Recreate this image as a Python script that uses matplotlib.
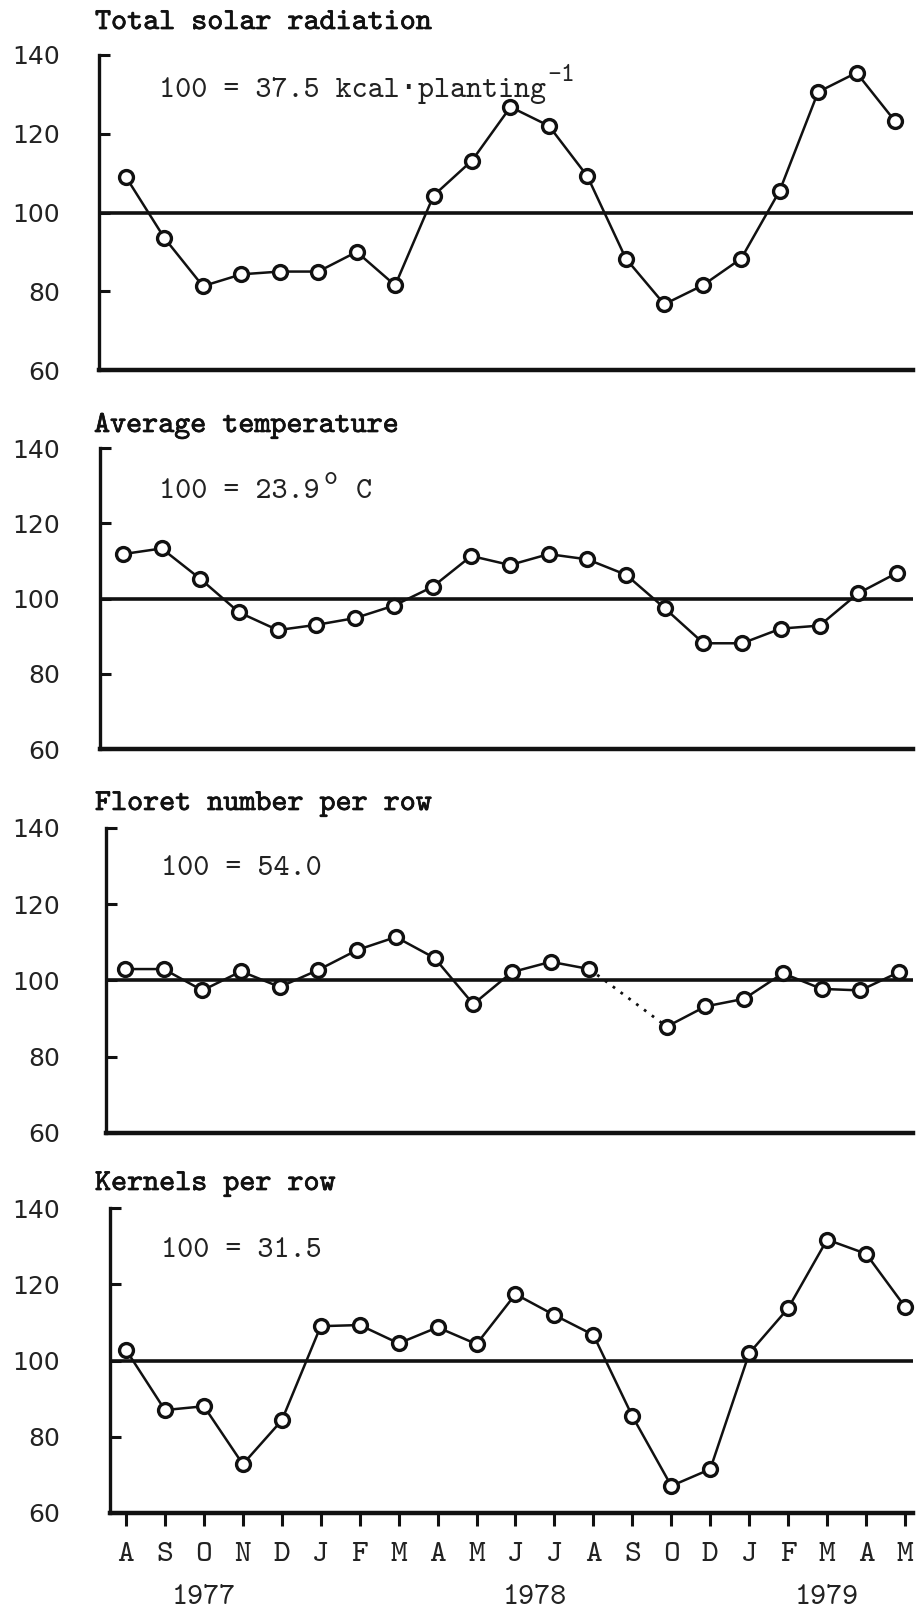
import numpy as np
import matplotlib
matplotlib.use("Agg")
import matplotlib.pyplot as plt
import matplotlib.patheffects as pe
import matplotlib.transforms as mtransforms

# planting months, Aug 1977 - May 1979 (no November planting in 1978)
months = ["A", "S", "O", "N", "D", "J", "F", "M", "A", "M",
          "J", "J", "A", "S", "O", "D", "J", "F", "M", "A", "M"]
years = ["1977", "1978", "1979"]
year_pos = [2, 10.5, 18]

# relative values, 100 = overall mean
solar = [109, 93.5, 81.3, 84.3, 85, 85, 90, 81.5, 104.3, 113.2,
         126.8, 122, 109.2, 88.3, 76.7, 81.5, 88.3, 105.5, 130.6, 135.5, 123.2]
temperature = [111.8, 113.3, 105.2, 96.3, 91.6, 93, 94.8, 98.1, 103.1, 111.3,
               108.9, 111.8, 110.4, 106.3, 97.4, 88.1, 88.1, 92, 92.8, 101.4, 106.8]
florets = [103, 103, 97.4, 102.4, 98.3, 102.8, 108, 111.4, 105.9, 93.8,
           102.2, 104.9, 103, np.nan, 87.9, 93.2, 95.2, 101.9, 97.8, 97.4, 102.2]
kernels = [102.8, 87, 88, 72.8, 84.3, 109, 109.3, 104.5, 108.7, 104.3,
           117.4, 111.9, 106.7, 85.4, 67.1, 71.5, 101.9, 113.7, 131.7, 128, 114.1]

titles = ["Total solar radiation", "Average temperature",
          "Floret number per row", "Kernels per row"]
base_notes = ["100 = 37.5 kcal\u00b7planting", "100 = 23.9", "100 = 54.0", "100 = 31.5"]
yticks = [60, 80, 100, 120, 140]

# page layout in pixels: left spine, first/last month x, top (140) and bottom (60) y
W, H = 920, 1612
RIGHT = 913
layouts = [(99, 126, 895, 55, 370),
           (100, 123, 897, 448, 749),
           (106, 125, 899, 828, 1133),
           (110, 126, 905, 1208, 1513)]
title_xy = [(95, 29), (94, 432), (95, 810), (95, 1190)]
note_xy = [(159, 97), (159, 498), (161, 875), (161, 1257)]

ink = "#111111"
grey = "#222222"
mono = ["cmtt10", "DejaVu Sans Mono"]

fig = plt.figure(figsize=(W / 100, H / 100), dpi=100)
fig.patch.set_facecolor("white")

series = [solar, temperature, florets, kernels]
x = np.arange(len(months))

for k, vals in enumerate(series):
    left, p0, p20, ytop, ybot = layouts[k]
    ax = fig.add_axes([left / W, 1 - ybot / H, (RIGHT - left) / W, (ybot - ytop) / H])
    step = (p20 - p0) / (len(months) - 1)
    ax.set_xlim((left - p0) / step, (RIGHT - p0) / step)
    ax.set_ylim(60, 140)
    ax.patch.set_alpha(0)

    v = np.asarray(vals, dtype=float)
    ax.axhline(100, color=ink, lw=2.6, zorder=1)
    ax.plot(x, v, "-", color=ink, lw=1.8, marker="o", ms=10, mfc="white",
            mec=ink, mew=2.4, zorder=3, clip_on=False)
    # missing month bridged with a dotted line
    for g in np.flatnonzero(np.isnan(v)):
        ax.plot([g - 1, g + 1], [v[g - 1], v[g + 1]], color=ink, lw=2.0,
                ls=(0, (1, 2.5)), zorder=2)

    for s in ("top", "right"):
        ax.spines[s].set_visible(False)
    ax.spines["left"].set_linewidth(2.4)
    ax.spines["bottom"].set_linewidth(3.2)
    for s in ("left", "bottom"):
        ax.spines[s].set_color(ink)

    ax.set_yticks(yticks)
    ax.set_yticklabels([str(t) for t in yticks])
    ax.tick_params(axis="y", direction="in", length=8, width=2.2, color=ink,
                   pad=(left - 60) * 0.72, labelsize=18, labelcolor=grey)

    if k < 3:
        ax.set_xticks([])
    else:
        ax.set_xticks(x)
        ax.set_xticklabels(months, family=mono, fontsize=23)
        ax.tick_params(axis="x", direction="out", length=9, width=2.2, color=ink,
                       pad=12, labelcolor=grey)
        tr = mtransforms.blended_transform_factory(ax.transData, fig.transFigure)
        for yr, xp in zip(years, year_pos):
            ax.text(xp, 1 - 1604 / H, yr, transform=tr, ha="center", va="baseline",
                    family=mono, fontsize=22, color=grey)

    tx, ty = title_xy[k]
    fig.text(tx / W, 1 - ty / H, titles[k], family=mono, fontsize=22, color=ink,
             va="baseline", path_effects=[pe.withStroke(linewidth=0.5, foreground=ink)])

    nx, ny = note_xy[k]
    note = fig.text(nx / W, 1 - ny / H, base_notes[k], family=mono, fontsize=22,
                    color=grey, va="baseline")
    if k == 0:
        ax.annotate("-1", xy=(1, 1), xycoords=note, xytext=(1, 1), textcoords="offset points",
                    ha="left", va="center", family=mono, fontsize=19, color=grey)
    elif k == 1:
        ax.annotate("o", xy=(1, 1), xycoords=note, xytext=(3, 0), textcoords="offset points",
                    ha="left", va="center", family=mono, fontsize=19, color=grey)
        ax.annotate("C", xy=(1, 0), xycoords=note, xytext=(26, 0), textcoords="offset points",
                    ha="left", va="bottom", family=mono, fontsize=22, color=grey)

fig.savefig("out.png", dpi=100)
